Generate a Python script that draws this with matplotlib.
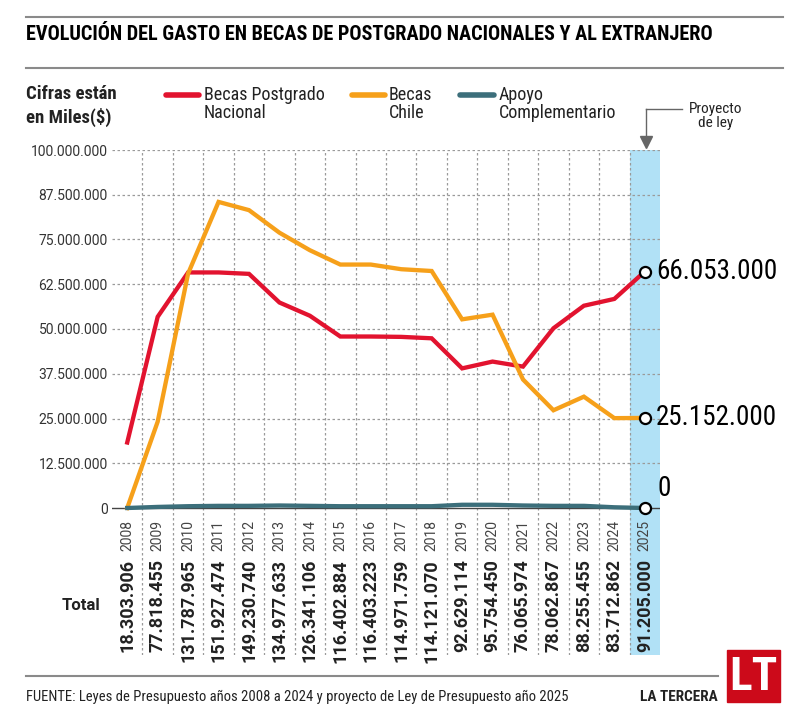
import matplotlib
matplotlib.use('Agg')
import matplotlib.pyplot as plt
from matplotlib import font_manager
from matplotlib.lines import Line2D
from matplotlib.patches import Rectangle
from matplotlib.ticker import FuncFormatter

# datos (miles de pesos)
years = list(range(2008, 2026))
becas_nacional = [18.3, 53.4, 65.8, 65.8, 65.4, 57.4, 53.7, 47.9, 47.9, 47.8,
                  47.4, 39.0, 40.9, 39.5, 50.2, 56.5, 58.4, 66.053]
becas_chile = [0.0, 24.1, 65.5, 85.5, 83.2, 76.9, 72.0, 68.0, 68.0, 66.7,
               66.2, 52.7, 54.0, 35.9, 27.3, 31.1, 25.1, 25.152]
apoyo = [0.0, 0.3, 0.5, 0.6, 0.6, 0.7, 0.6, 0.5, 0.5, 0.5,
         0.5, 0.9, 0.9, 0.7, 0.6, 0.6, 0.2, 0.0]
totals = [18303906, 77818455, 131787965, 151927474, 149230740, 134977633,
          126341106, 116402884, 116403223, 114971759, 114121070, 92629114,
          95754450, 76065974, 78062867, 88255455, 83712862, 91205000]
series_names = ['Becas Postgrado\nNacional', 'Becas\nChile', 'Apoyo\nComplementario']
yticks = [0, 12.5, 25, 37.5, 50, 62.5, 75, 87.5, 100]

RED = '#e2132f'
ORANGE = '#f6a01a'
TEAL = '#3c6f7b'
BAND = '#b1e1f6'
DARK = '#222222'

available = {f.name for f in font_manager.fontManager.ttflist}
narrow = None
for fam in ['Roboto Condensed', 'Liberation Sans Narrow']:
    if fam in available:
        narrow = fam
        break
# tamaño relativo si no hay fuente angosta
k = 1.0 if narrow else 0.88
NF = [narrow, 'Roboto', 'DejaVu Sans'] if narrow else ['Roboto', 'DejaVu Sans']

plt.rcParams['font.family'] = ['Roboto', 'DejaVu Sans']


def dots(v):
    return f'{v:,.0f}'.replace(',', '.')


def fx(px):
    return px / 800


def fy(py):
    return 1 - py / 725


fig = plt.figure(figsize=(8, 7.25), dpi=100)

# ejes: 0 en y=508px, 100M en y=150px, abajo hasta 655px (tabla)
ax = fig.add_axes([fx(112), fy(655), fx(660) - fx(112), fy(150) - fy(655)])
scale = 358 / 100e6
ax.set_xlim(2007.5, 2025.5)
ax.set_ylim(-(655 - 508) / scale, 100e6)
for s in ax.spines.values():
    s.set_visible(False)

ax.axvspan(2024.5, 2025.5, color=BAND, zorder=0, lw=0)

for v in yticks[1:]:
    ax.axhline(v * 1e6, color='#9a9a9a', lw=0.9, ls=(0, (2, 2)), zorder=1)
for x in years[:-1]:
    ax.axvline(x + 0.5, color='#9a9a9a', lw=0.9, ls=(0, (2, 2)), zorder=1)
ax.axhline(0, color='#444444', lw=1.0, zorder=1)

ax.set_yticks([v * 1e6 for v in yticks])
ax.yaxis.set_major_formatter(FuncFormatter(lambda v, p: dots(v)))
ax.tick_params(axis='y', length=0, pad=3, labelsize=10, labelcolor='#333333')
ax.set_xticks([])

ys = [[v * 1e6 for v in becas_nacional], [v * 1e6 for v in becas_chile], [v * 1e6 for v in apoyo]]
colors = [RED, ORANGE, TEAL]
for y, c in zip(ys, colors):
    ax.plot(years, y, color=c, lw=3.1, solid_joinstyle='miter', zorder=3, clip_on=False)
    ax.plot(years[-1], y[-1], 'o', ms=8, mfc='white', mec='black', mew=1.6, zorder=5, clip_on=False)

end_kw = dict(color='black', zorder=6, annotation_clip=False, family=NF, fontsize=19.5 * k)
for y in ys[:2]:
    ax.annotate(dots(y[-1]), (years[-1], y[-1]), xytext=(8, 0), textcoords='offset points',
                ha='left', va='center', **end_kw)
ax.annotate(dots(ys[2][-1]), (years[-1], ys[2][-1]), xytext=(9, 4), textcoords='offset points',
            ha='left', va='bottom', **end_kw)

# tabla de años y totales
tr = ax.get_xaxis_transform()
for yr, tot in zip(years, totals):
    ax.text(yr, (655 - 551) / 505, str(yr), transform=tr, rotation=90, ha='center', va='bottom',
            fontsize=10, color='#444444')
    ax.text(yr, (655 - 559) / 505, dots(tot), transform=tr, rotation=90, ha='center', va='top',
            fontsize=13, fontweight='bold', color=DARK)
fig.text(fx(100), fy(605), 'Total', ha='right', va='center', fontsize=12, fontweight='bold', color=DARK)

# cabecera
fig.add_artist(Line2D([fx(26), fx(783)], [fy(17), fy(17)], color='#8a8a8a', lw=1.5))
fig.add_artist(Line2D([fx(26), fx(783)], [fy(68), fy(68)], color='#8a8a8a', lw=1.5))
fig.text(fx(26), fy(35), 'EVOLUCIÓN DEL GASTO EN BECAS DE POSTGRADO NACIONALES Y AL EXTRANJERO',
         ha='left', va='center', fontsize=14.6 * k, fontweight='bold', color='black', family=NF)

fig.text(fx(26), fy(94), 'Cifras están', ha='left', va='center', fontsize=13.5 * k,
         fontweight='bold', color=DARK, family=NF)
fig.text(fx(26), fy(117), 'en Miles($)', ha='left', va='center', fontsize=13.5 * k,
         fontweight='bold', color=DARK, family=NF)

# leyenda
leg_x = [(166, 199, 204), (352, 385, 389), (460, 494, 499)]
for (x0, x1, xt), c, name in zip(leg_x, colors, series_names):
    fig.add_artist(Line2D([fx(x0), fx(x1)], [fy(95), fy(95)], color=c, lw=4, solid_capstyle='round'))
    fig.text(fx(xt), fy(104), name, ha='left', va='center', fontsize=13 * k, color=DARK,
             linespacing=1.0, family=NF)

# proyecto de ley
fig.add_artist(Line2D([fx(646), fx(682)], [fy(109), fy(109)], color='#666666', lw=1))
fig.add_artist(Line2D([fx(646), fx(646)], [fy(109), fy(141)], color='#666666', lw=1))
fig.add_artist(Line2D([fx(646)], [fy(142)], marker='v', ms=8, color='#666666', lw=0))
fig.text(fx(716), fy(116), 'Proyecto\nde ley', ha='center', va='center', fontsize=11 * k,
         color=DARK, linespacing=1.05, family=NF)

# pie
fig.add_artist(Line2D([fx(26), fx(718)], [fy(676), fy(676)], color='#8a8a8a', lw=1.5))
fig.text(fx(26), fy(697), 'FUENTE: Leyes de Presupuesto años 2008 a 2024 y proyecto de Ley de Presupuesto año 2025',
         ha='left', va='center', fontsize=10.5 * k, color=DARK, family=NF)
fig.text(fx(718), fy(697), 'LA TERCERA', ha='right', va='center', fontsize=11 * k,
         fontweight='bold', color=DARK, family=NF)
fig.add_artist(Rectangle((fx(727), fy(702)), fx(780) - fx(727), fy(650) - fy(702), color='#cc0a1a'))
fig.text(fx(753), fy(677), 'LT', ha='center', va='center', fontsize=34 * k, fontweight='bold',
         color='white', family=NF)

fig.savefig('out.png', dpi=100)
